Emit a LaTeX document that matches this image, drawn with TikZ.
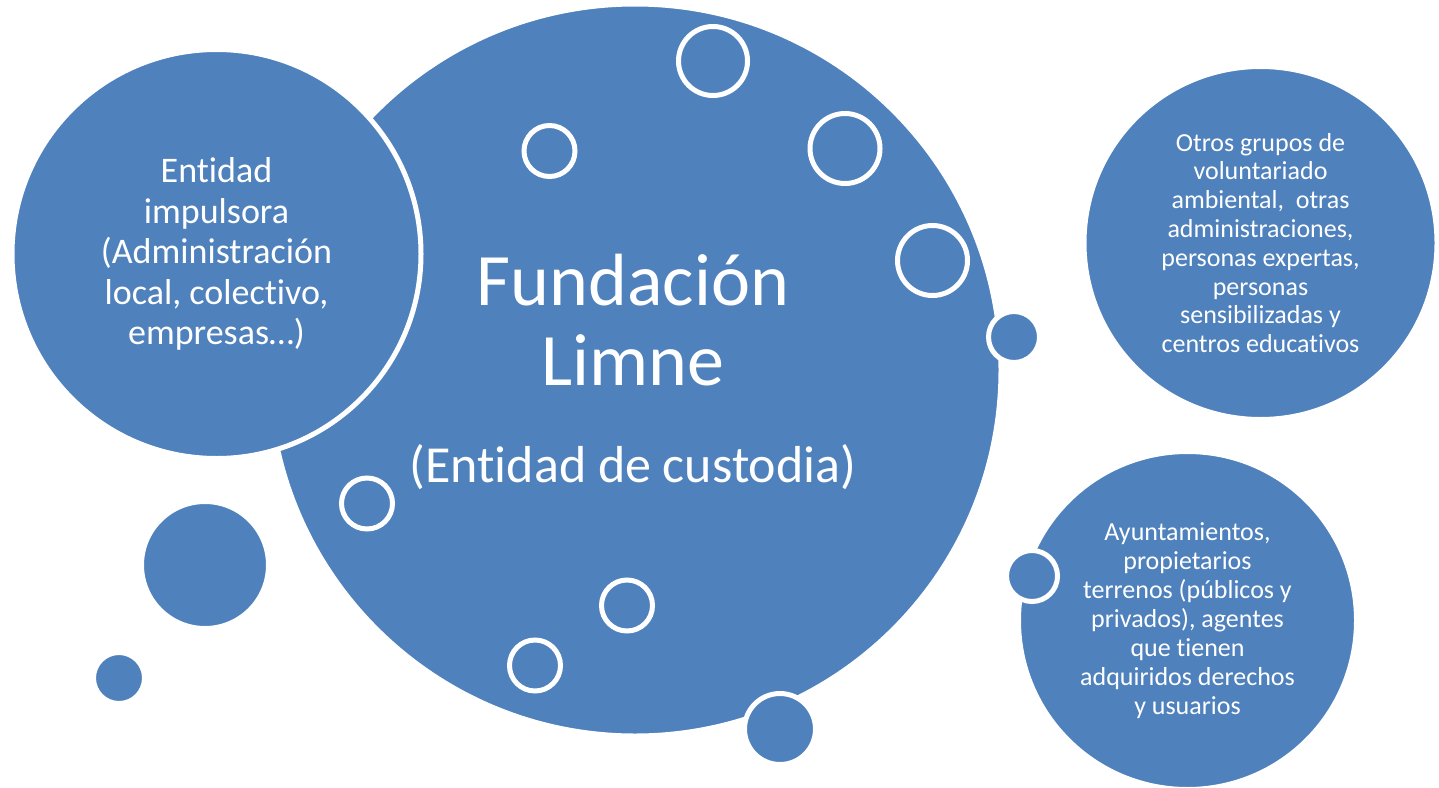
\documentclass[tikz,border=0pt]{standalone}
\usepackage{fontspec}
\setmainfont{Carlito}[Ligatures = NoCommon]
\usetikzlibrary{shapes}

\definecolor{limneblue}{RGB}{79,129,189}

\begin{document}
\begin{tikzpicture}[
    x = 1pt, y = -1pt,
    bubble/.style = {circle,
      fill = limneblue,
      draw = white,
      line width = 5pt,
      inner sep = 0pt,
      text = white,
      align = center},
    ring/.style = {circle,
      draw = white,
      line width = 5pt,
      inner sep = 0pt},
    label/.style = {text = white,
      align = center,
      inner sep = 0pt}
    ]

    \useasboundingbox (0, 0) rectangle (1439, 787);

    % central entity
    \node at (635, 370) [bubble, minimum size = 732pt, name = limne] {};
    \node at (633, 320) [label, font = \fontsize{74}{80}\selectfont, name = limnetitle] {Fundación\\Limne};
    \node at (633, 482) [label, anchor = base, font = \fontsize{52}{60}\selectfont, name = limnerole] {(Entidad de custodia)};

    % promoter
    \node at (216.5, 254) [bubble, minimum size = 409pt, font = \fontsize{36}{40.5}\selectfont, name = impulsora]
      {Entidad\\impulsora\\(Administración\\local, colectivo,\\empresas…)};

    \node at (205, 565) [bubble, minimum size = 127pt, name = dropA] {};
    \node at (119, 678) [bubble, minimum size = 51pt, name = dropB] {};

    % rings inside
    \node at (713, 61) [ring, minimum size = 69pt, name = ringA] {};
    \node at (549.5, 151) [ring, minimum size = 51pt, name = ringB] {};
    \node at (845, 148.5) [ring, minimum size = 70pt, name = ringC] {};
    \node at (932.5, 260.5) [ring, minimum size = 70pt, name = ringD] {};
    \node at (367, 503.5) [ring, minimum size = 51pt, name = ringE] {};
    \node at (627, 605.5) [ring, minimum size = 51pt, name = ringF] {};
    \node at (535, 665.5) [ring, minimum size = 51pt, name = ringG] {};

    \node at (1014, 337) [bubble, minimum size = 51pt, name = dropC] {};
    \node at (780, 729) [bubble, minimum size = 71pt, name = dropD] {};

    % other actors
    \node at (1260.5, 243) [bubble, minimum size = 353pt, font = \fontsize{26}{28.8}\selectfont, name = otros]
      {Otros grupos de\\voluntariado\\ambiental,~ otras\\administraciones,\\personas expertas,\\personas\\sensibilizadas y\\centros educativos};
    \node at (1187.5, 620.5) [bubble, minimum size = 338pt, font = \fontsize{26}{29}\selectfont, name = ayunt]
      {Ayuntamientos,\\propietarios\\terrenos (públicos y\\privados), agentes\\que tienen\\adquiridos derechos\\y usuarios};
    \node at (1032, 576) [bubble, minimum size = 51pt, name = dropE] {};

  \end{tikzpicture}
\end{document}
